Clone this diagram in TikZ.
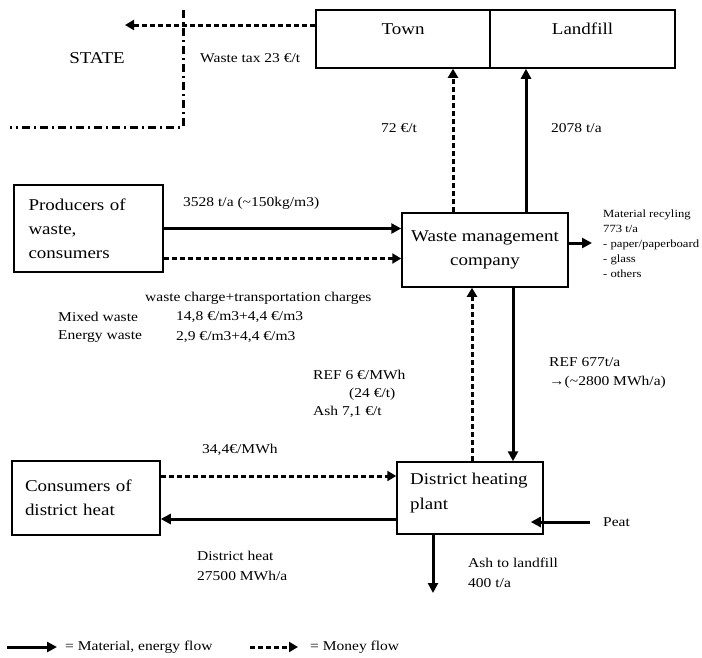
\documentclass[tikz,border=0pt]{standalone}
\usepackage{fontspec}
\setmainfont[FakeStretch=1.15]{Liberation Serif}
\usetikzlibrary{arrows.meta}

\tikzset{
	box/.style={draw, line width=1.5pt, inner sep=0pt, font=\fontsize{16.5}{24}\selectfont},
	boxtext/.style={inner sep=0pt, font=\fontsize{16.5}{25}\selectfont, align=left},
	lbl/.style={inner sep=0pt, font=\fontsize{13.5}{19.5}\selectfont, align=left},
	small/.style={inner sep=0pt, font=\fontsize{11}{15}\selectfont, align=left},
	flow/.style={line width=3pt, -{Triangle[length=10pt,width=10pt]}},
	money/.style={line width=3pt, dash pattern=on 5pt off 3pt, -{Triangle[length=9pt,width=10pt]}},
}

\begin{document}
\begin{tikzpicture}[x=1pt,y=-1pt]
	\useasboundingbox (0,0) rectangle (702,657);

	% boxes
	\node[box, minimum width=174, minimum height=58] (town) at (403,39) {};
	\node[box, minimum width=185, minimum height=58] (landfill) at (582.5,39) {};
	\node[boxtext] at (403,29) {Town};
	\node[boxtext] at (582.5,29) {Landfill};
	\node[box, minimum width=149, minimum height=87, text width=120, align=left] (producers) at (88.5,228.5) {Producers of\\waste,\\consumers};
	\node[box, minimum width=166, minimum height=74, align=center] (wmc) at (485,250) {Waste management\\company};
	\node[box, minimum width=148, minimum height=74, text width=122, align=left] (consumers) at (86,498) {Consumers of\\district heat};
	\node[box, minimum width=146, minimum height=72] (dhp) at (470,498) {};
	\node[boxtext, anchor=north west] at (410,473) {District heating\\plant};

	% state
	\node[boxtext] (state) at (97,58) {STATE};
	\draw[line width=3pt, dash pattern=on 8pt off 4pt on 2pt off 4pt] (183,10) -- (183,127) -- (10,127);
	\coordinate (tax) at (125,25);
	\draw[money] (town.west |- tax) -- (tax);
	\node[lbl, anchor=west] at (200,58) {Waste tax 23 €/t};

	% town and landfill
	\draw[money] ([xshift=-32pt]wmc.north) -- ([xshift=-32pt]wmc.north |- town.south);
	\draw[flow] ([xshift=41pt]wmc.north) -- ([xshift=41pt]wmc.north |- landfill.south);
	\node[lbl, anchor=west] at (381,128) {72 €/t};
	\node[lbl, anchor=west] at (551,128) {2078 t/a};

	% producers
	\draw[flow] (producers.east) -- (producers.east -| wmc.west);
	\draw[money] ([yshift=-30pt]producers.east) -- ([yshift=-30pt]producers.east -| wmc.west);
	\node[lbl, anchor=west] at (183,203) {3528 t/a (\textasciitilde150kg/m3)};
	\node[lbl, anchor=west] at (145,298) {waste charge+transportation charges};
	\node[lbl, anchor=west] at (58,317) {Mixed waste};
	\node[lbl, anchor=west] at (176,317) {14,8 €/m3+4,4 €/m3};
	\node[lbl, anchor=west] at (58,337) {Energy waste};
	\node[lbl, anchor=west] at (176,337) {2,9 €/m3+4,4 €/m3};

	% recycling
	\coordinate (rec) at (592,243);
	\draw[flow] (wmc.east |- rec) -- (rec);
	\node[small, anchor=north west] at (603,210) {Material recyling\\773 t/a\\- paper/paperboard\\- glass\\- others};

	% wmc and district heating plant
	\draw[money] ([xshift=2pt]dhp.north) -- ([xshift=2pt]dhp.north |- wmc.south);
	\draw[flow] ([xshift=28pt]wmc.south) -- ([xshift=28pt]wmc.south |- dhp.north);
	\node[lbl, anchor=west] at (313,375) {REF 6 €/MWh};
	\node[lbl, anchor=west] at (349,394) {(24 €/t)};
	\node[lbl, anchor=west] at (313,412) {Ash 7,1 €/t};
	\node[lbl, anchor=north west] at (549,357) {REF 677t/a\\→(\textasciitilde2800 MWh/a)};

	% consumers
	\draw[money] ([yshift=22pt]consumers.east) -- ([yshift=22pt]consumers.east -| dhp.west);
	\draw[flow] ([yshift=-21pt]dhp.west) -- ([yshift=-21pt]dhp.west -| consumers.east);
	\node[lbl, anchor=west] at (202,450) {34,4€/MWh};
	\node[lbl, anchor=north west] at (197,551) {District heat\\27500 MWh/a};

	% peat and ash
	\node[lbl, anchor=west] (peat) at (603,522) {Peat};
	\draw[flow] ([xshift=-13pt]peat.west) -- ([xshift=-13pt]peat.west -| dhp.east);
	\coordinate (ash) at (433,593);
	\draw[flow] (dhp.south -| ash) -- (ash);
	\node[lbl, anchor=north west] at (468,558) {Ash to landfill\\400 t/a};

	% legend
	\node[lbl, anchor=west] (material) at (65,647) {= Material, energy flow};
	\node[lbl, anchor=west] (moneyleg) at (310,647) {= Money flow};
	\coordinate (l1) at (7,647);
	\coordinate (l2) at (250,647);
	\draw[flow] (l1) -- ([xshift=-8pt]material.west);
	\draw[money] (l2) -- ([xshift=-12pt]moneyleg.west);
\end{tikzpicture}
\end{document}
